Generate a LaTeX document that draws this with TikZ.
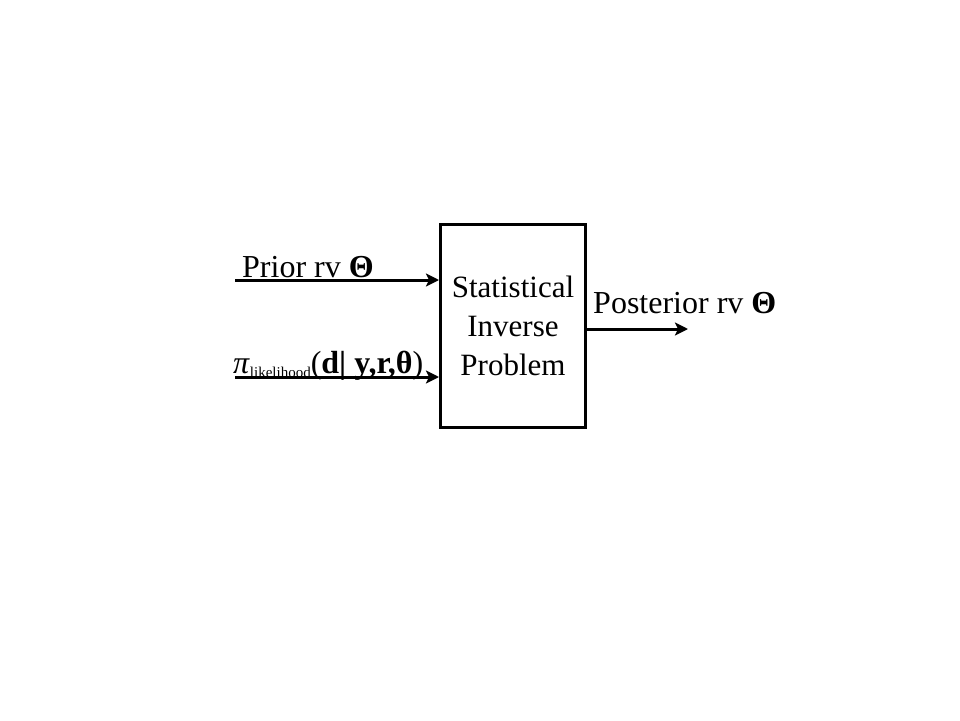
\documentclass[tikz,border=0pt]{standalone}
\usepackage{fontspec}
\setmainfont{Liberation Serif}
\usetikzlibrary{arrows.meta}
\begin{document}
\begin{tikzpicture}[x=1pt,y=-1pt,
  lbl/.style={font=\fontsize{32}{36}\selectfont, inner sep=0pt, anchor=base west},
  conn/.style={line width=3pt, -{Stealth[length=13pt,width=13pt,inset=3pt]}}]
\useasboundingbox (0,0) rectangle (960,720);
\node[draw, line width=3pt, minimum width=145pt, minimum height=203pt, inner sep=0pt,
  align=center, font=\fontsize{31}{39}\selectfont] (box) at (513,326) {Statistical\\Inverse\\Problem};
\coordinate (a1) at (235,280);
\coordinate (a2) at (235,377);
\draw[conn] (a1) -- (a1 -| box.west);
\draw[conn] (a2) -- (a2 -| box.west);
\coordinate (o1) at (box.east |- 0,329);
\coordinate (o2) at (688,329);
\draw[conn] (o1) -- (o2);
\node[lbl] (prior) at (242,277) {Prior rv \textbf{Θ}};
\node[lbl] (lik) at (233,373) {\textit{π}\raisebox{-4pt}{\fontsize{15}{15}\selectfont likelihood}(\textbf{d| y,r,θ})};
\node[lbl] (post) at (593,313) {Posterior rv \textbf{Θ}};
\end{tikzpicture}
\end{document}
